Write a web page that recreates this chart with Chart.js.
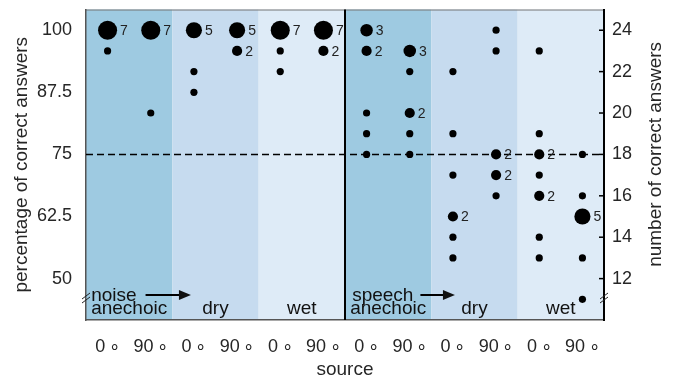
<!DOCTYPE html>
<html>
<head>
<meta charset="utf-8">
<script src="https://cdn.jsdelivr.net/npm/chart.js@4.4.1/dist/chart.umd.min.js"></script>
<style>
  body { margin: 0; background: #fff; }
  #wrap { width: 675px; height: 382px; }
</style>
</head>
<body>
<div id="wrap"><canvas id="chart"></canvas></div>
<script>
// source angle of every column, two per room
const angles = ['0\u2009\u2218', '90\u2009\u2218', '0\u2009\u2218', '90\u2009\u2218', '0\u2009\u2218', '90\u2009\u2218',
                '0\u2009\u2218', '90\u2009\u2218', '0\u2009\u2218', '90\u2009\u2218', '0\u2009\u2218', '90\u2009\u2218'];
const rooms = ['anechoic', 'dry', 'wet', 'anechoic', 'dry', 'wet'];
const stimuli = ['noise', 'speech'];

// number of correct answers (out of 24) and how many listeners got it
const answers = [
  [24, 23],
  [24, 20],
  [24, 22, 21],
  [24, 23],
  [24, 23, 22],
  [24, 23],
  [24, 23, 20, 19, 18],
  [23, 22, 20, 19, 18],
  [22, 19, 17, 15, 14, 13],
  [24, 23, 18, 17, 16],
  [23, 19, 18, 17, 16, 14, 13],
  [18, 16, 15, 13, 11]
];
const counts = [
  [7, 1],
  [7, 1],
  [5, 1, 1],
  [5, 2],
  [7, 1, 1],
  [7, 2],
  [3, 2, 1, 1, 1],
  [3, 1, 2, 1, 1],
  [1, 1, 1, 2, 1, 1],
  [1, 1, 2, 2, 1],
  [1, 1, 2, 1, 2, 1, 1],
  [1, 1, 5, 1, 1]
];
const totalAnswers = 24;
const percentTicks = [50, 62.5, 75, 87.5, 100];
const answerTicks = [12, 14, 16, 18, 20, 22, 24];
const threshold = 18; // 75 %

const roomColors = { anechoic: '#9ecae1', dry: '#c6dbef', wet: '#deebf7' };
const FONT = "'Liberation Sans', Arial, sans-serif";
const TEXT = '#262626';

const points = [];
answers.forEach((list, i) => {
  list.forEach((a, j) => {
    points.push({ x: i, y: a, r: 3.6 * Math.sqrt(counts[i][j]), n: counts[i][j] });
  });
});

// keep the plot box where the reference has it
function noPad(s) {
  s.paddingTop = 0;
  s.paddingBottom = 0;
  s.paddingLeft = 0;
  s.paddingRight = 0;
}

const decorPlugin = {
  id: 'decor',
  beforeDraw(chart) {
    const ctx = chart.ctx, xs = chart.scales.x, area = chart.chartArea;
    ctx.save();
    rooms.forEach((room, i) => {
      const x0 = xs.getPixelForValue(2 * i - 0.5);
      const x1 = xs.getPixelForValue(2 * i + 1.5);
      ctx.fillStyle = roomColors[room];
      ctx.fillRect(x0, area.top, x1 - x0, area.bottom - area.top);
    });
    // top frame line
    ctx.strokeStyle = '#777';
    ctx.lineWidth = 1;
    ctx.beginPath();
    ctx.moveTo(area.left, area.top + 0.5);
    ctx.lineTo(area.right, area.top + 0.5);
    ctx.stroke();
    ctx.restore();
  },
  beforeDatasetsDraw(chart) {
    const ctx = chart.ctx, xs = chart.scales.x, ys = chart.scales.y2, area = chart.chartArea;
    ctx.save();
    // 75 % line
    const yt = ys.getPixelForValue(threshold);
    ctx.strokeStyle = '#000';
    ctx.lineWidth = 1.5;
    ctx.setLineDash([7, 4]);
    ctx.beginPath();
    ctx.moveTo(area.left, yt);
    ctx.lineTo(area.right, yt);
    ctx.stroke();
    ctx.setLineDash([]);
    // noise | speech separator
    const xsep = xs.getPixelForValue(5.5);
    ctx.lineWidth = 2;
    ctx.beginPath();
    ctx.moveTo(xsep, area.top);
    ctx.lineTo(xsep, area.bottom);
    ctx.stroke();
    // room names and stimulus labels
    ctx.font = '19px ' + FONT;
    ctx.fillStyle = '#111';
    ctx.textBaseline = 'alphabetic';
    rooms.forEach((room, i) => {
      const cx = (xs.getPixelForValue(2 * i - 0.5) + xs.getPixelForValue(2 * i + 1.5)) / 2;
      ctx.textAlign = 'center';
      ctx.fillText(room, cx, area.bottom - 6);
    });
    stimuli.forEach((s, k) => {
      const i = 3 * k;
      const cx = (xs.getPixelForValue(2 * i - 0.5) + xs.getPixelForValue(2 * i + 1.5)) / 2;
      const left = cx - ctx.measureText(rooms[i]).width / 2;
      ctx.textAlign = 'left';
      ctx.fillText(s, left + (k ? 2 : 0), area.bottom - 19);
      const ax0 = left + ctx.measureText(s).width + 9;
      const ax1 = xs.getPixelForValue(2 * i + 2) - 3 + (k ? 5 : 0);
      const ay = area.bottom - 25;
      ctx.strokeStyle = '#000';
      ctx.lineWidth = 2;
      ctx.beginPath();
      ctx.moveTo(ax0, ay);
      ctx.lineTo(ax1 - 8, ay);
      ctx.stroke();
      ctx.beginPath();
      ctx.moveTo(ax1, ay);
      ctx.lineTo(ax1 - 12, ay - 5);
      ctx.lineTo(ax1 - 12, ay + 5);
      ctx.closePath();
      ctx.fill();
    });
    ctx.restore();
  },
  afterDatasetsDraw(chart) {
    const ctx = chart.ctx, xs = chart.scales.x, ys = chart.scales.y2, area = chart.chartArea;
    ctx.save();
    // counts next to dots
    ctx.font = '14px ' + FONT;
    ctx.fillStyle = '#222';
    ctx.textAlign = 'left';
    ctx.textBaseline = 'middle';
    points.forEach(p => {
      if (p.n > 1) {
        ctx.fillText(String(p.n), xs.getPixelForValue(p.x) + p.r + 3, ys.getPixelForValue(p.y) + 1);
      }
    });
    // inward ticks on right axis
    ctx.strokeStyle = '#000';
    ctx.lineWidth = 1.5;
    answerTicks.forEach(t => {
      const y = ys.getPixelForValue(t);
      ctx.beginPath();
      ctx.moveTo(area.right - 5, y);
      ctx.lineTo(area.right, y);
      ctx.stroke();
    });
    // axis break marks
    ctx.lineWidth = 1;
    ctx.strokeStyle = '#222';
    [area.left, area.right].forEach(x => {
      const y = area.bottom - 22;
      [-2, 2].forEach(d => {
        ctx.beginPath();
        ctx.moveTo(x - 4, y + 3 + d);
        ctx.lineTo(x + 4, y - 3 + d);
        ctx.stroke();
      });
    });
    // right axis title, reading upwards
    ctx.font = '19px ' + FONT;
    ctx.fillStyle = TEXT;
    ctx.textAlign = 'center';
    ctx.textBaseline = 'middle';
    ctx.translate(656, ys.getPixelForValue(threshold));
    ctx.rotate(-Math.PI / 2);
    ctx.fillText('number of correct answers', 0, 0);
    ctx.restore();
  }
};

new Chart(document.getElementById('chart'), {
  type: 'bubble',
  data: {
    datasets: [{
      data: points,
      backgroundColor: '#000',
      borderWidth: 0,
      hoverRadius: 0,
      xAxisID: 'x',
      yAxisID: 'y2'
    }]
  },
  options: {
    responsive: true,
    maintainAspectRatio: false,
    animation: false,
    events: [],
    layout: { padding: { top: 6, left: 0, right: 0, bottom: 0 } },
    plugins: { legend: { display: false }, tooltip: { enabled: false } },
    scales: {
      x: {
        type: 'linear',
        position: 'bottom',
        min: -0.5,
        max: 11.5,
        afterBuildTicks: s => { s.ticks = angles.map((_, i) => ({ value: i })); },
        afterFit: s => { s.height = 62; noPad(s); },
        ticks: {
          callback: v => angles[v],
          autoSkip: false,
          maxRotation: 0,
          padding: 16,
          color: TEXT,
          font: { family: FONT, size: 18 }
        },
        grid: { display: false, drawTicks: false },
        border: { display: true, color: '#555', width: 1.5 },
        title: {
          display: true,
          text: 'source',
          color: TEXT,
          font: { family: FONT, size: 19 },
          padding: { top: 0, bottom: 1 }
        }
      },
      y: {
        type: 'linear',
        position: 'left',
        min: 1000 / totalAnswers,
        max: 2500 / totalAnswers,
        afterBuildTicks: s => { s.ticks = percentTicks.map(v => ({ value: v })); },
        afterFit: s => { s.width = 86; noPad(s); },
        ticks: {
          padding: 14,
          color: TEXT,
          font: { family: FONT, size: 18 }
        },
        grid: { display: false, drawTicks: false },
        border: { display: true, color: '#555', width: 1.5 },
        title: {
          display: true,
          text: 'percentage of correct answers',
          color: TEXT,
          font: { family: FONT, size: 19 },
          padding: { top: 10, bottom: 0 }
        }
      },
      y2: {
        type: 'linear',
        position: 'right',
        min: 10,
        max: 25,
        afterBuildTicks: s => { s.ticks = answerTicks.map(v => ({ value: v })); },
        afterFit: s => { s.width = 71; noPad(s); },
        ticks: {
          padding: 8,
          color: TEXT,
          font: { family: FONT, size: 18 }
        },
        grid: { display: false, drawTicks: false },
        border: { display: true, color: '#000', width: 2 }
      }
    }
  },
  plugins: [decorPlugin]
});
</script>
</body>
</html>
